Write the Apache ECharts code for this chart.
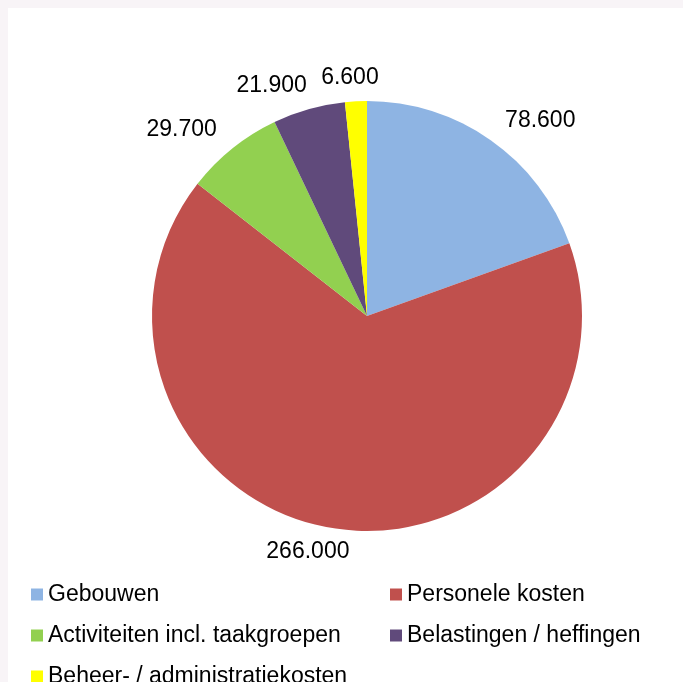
<!DOCTYPE html>
<html>
<head>
<meta charset="utf-8">
<script src="https://cdn.jsdelivr.net/npm/echarts@6/dist/echarts.min.js"></script>
<style>
html,body{margin:0;padding:0;background:#f8f4f7;width:683px;height:682px;overflow:hidden;}
#chart{position:absolute;left:8px;top:8px;width:675px;height:760px;background:#ffffff;}
</style>
</head>
<body>
<div id="chart"></div>
<script>
var categories = ['Gebouwen', 'Personele kosten', 'Activiteiten incl. taakgroepen', 'Belastingen / heffingen', 'Beheer- / administratiekosten'];
var values = [78600, 266000, 29700, 21900, 6600];
var valueLabels = ['78.600', '266.000', '29.700', '21.900', '6.600'];
var colors = ['#8EB4E3', '#C0504D', '#92D050', '#604A7B', '#FFFF00'];

var total = values.reduce(function(a, b){ return a + b; }, 0);
function midAngle(i){
  var cum = 0;
  for (var k = 0; k < i; k++) cum += values[k];
  return 2 * Math.PI * (cum + values[i] / 2) / total;
}

var fontFam = '"Liberation Sans", Arial, Helvetica, sans-serif';
var chart = echarts.init(document.getElementById('chart'));
var data = categories.map(function(c, i){
  return { name: c, value: values[i], itemStyle: { color: colors[i] } };
});
var legendText = { fontSize: 23, lineHeight: 23, color: '#000', fontFamily: fontFam };
chart.setOption({
  animation: false,
  legend: [
    {
      data: [categories[0], categories[2], categories[4]],
      orient: 'vertical', left: 23, top: 575, padding: 0,
      itemWidth: 12, itemHeight: 12, itemGap: 18, icon: 'rect',
      textStyle: legendText
    },
    {
      data: [categories[1], categories[3]],
      orient: 'vertical', left: 382, top: 575, padding: 0,
      itemWidth: 12, itemHeight: 12, itemGap: 18, icon: 'rect',
      textStyle: legendText
    }
  ],
  series: [{
    type: 'pie',
    center: [359, 308],
    radius: 215,
    startAngle: 90,
    clockwise: true,
    avoidLabelOverlap: false,
    data: data,
    itemStyle: { borderWidth: 0 },
    emphasis: { disabled: true },
    label: {
      show: true,
      position: 'outside',
      distanceToLabelLine: 0,
      fontSize: 23,
      color: '#000',
      fontFamily: fontFam,
      formatter: function(p){ return valueLabels[p.dataIndex]; }
    },
    labelLine: { show: false, length: 25, length2: 0 },
    labelLayout: function(params){
      var a = midAngle(params.dataIndex);
      var s = Math.sin(a);
      var frac = Math.max(0, 0.5 - 1.6 * Math.abs(s));
      var sign = s >= 0 ? 1 : -1;
      return { dx: -sign * frac * params.labelRect.width, dy: Math.cos(a) < 0 ? -1 : 1 };
    }
  }]
});
</script>
</body>
</html>
